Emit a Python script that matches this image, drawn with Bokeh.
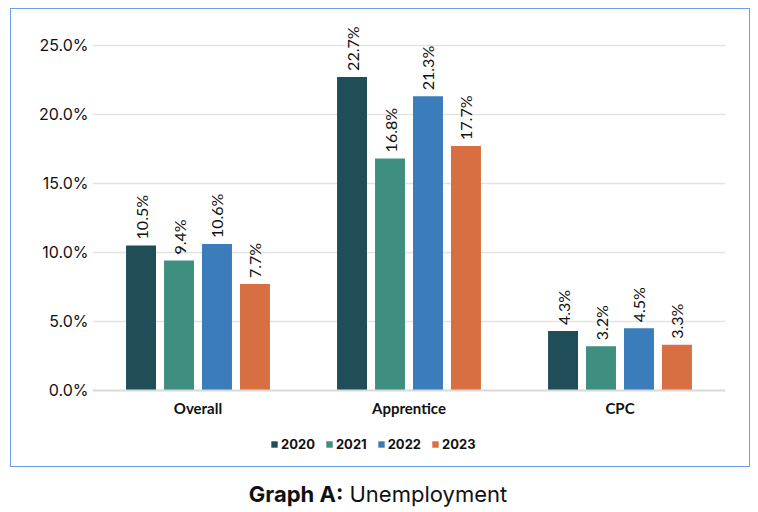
from bokeh.plotting import figure
from bokeh.models import (ColumnDataSource, FactorRange, Range1d, Legend, LegendItem,
                          FixedTicker, Div, CustomJSTickFormatter, Span)
from bokeh.transform import dodge
from bokeh.layouts import column
from bokeh.core.properties import value
from bokeh.embed import file_html
from bokeh.resources import INLINE
import math

categories = ["Overall", "Apprentice", "CPC"]
years = ["2020", "2021", "2022", "2023"]
v2020 = [10.5, 22.7, 4.3]
v2021 = [9.4, 16.8, 3.2]
v2022 = [10.6, 21.3, 4.5]
v2023 = [7.7, 17.7, 3.3]
series = [v2020, v2021, v2022, v2023]
colors = ["#1F4E59", "#3F8F80", "#3A7DBA", "#D86F43"]
y_ticks = [0, 5, 10, 15, 20, 25]

p = figure(x_range=FactorRange(*categories, range_padding=0),
           y_range=Range1d(-5, 27),
           width=738, height=457, output_backend="svg", toolbar_location=None,
           min_border_left=81, min_border_right=24, min_border_top=8, min_border_bottom=7)
p.outline_line_color = None
p.background_fill_color = "white"

offsets = [-0.27, -0.09, 0.09, 0.27]
items = []
for yr, vals, col, off in zip(years, series, colors, offsets):
    src = ColumnDataSource(dict(cat=categories, val=vals,
                                lab=[f"{v:.1f}%" for v in vals]))
    r = p.vbar(x=dodge("cat", off, range=p.x_range), top="val", width=0.142,
               source=src, fill_color=col, line_color=None)
    p.text(x=dodge("cat", off, range=p.x_range), y="val", text="lab", source=src,
           angle=math.pi / 2, text_align="left", text_baseline="middle",
           y_offset=-6, text_font=value("Lato"), text_font_size="16px",
           text_color="#111111")
    items.append(LegendItem(label=yr, renderers=[r]))

# baseline and category labels
p.add_layout(Span(location=0, dimension="width", line_color="#D9D9D9", line_width=2))
cat_src = ColumnDataSource(dict(cat=categories, y=[0] * len(categories)))
p.text(x="cat", y="y", text="cat", source=cat_src, y_offset=18,
       text_align="center", text_baseline="middle", text_font=value("Lato"),
       text_font_style="bold", text_font_size="15px", text_color="#111111")

p.xaxis.visible = False
p.yaxis.ticker = FixedTicker(ticks=y_ticks)
p.yaxis.formatter = CustomJSTickFormatter(code="return tick.toFixed(1) + '%';")
p.yaxis.axis_line_color = None
p.yaxis.major_tick_line_color = None
p.yaxis.minor_tick_line_color = None
p.yaxis.major_tick_out = 0
p.yaxis.major_tick_in = 0
p.yaxis.major_label_text_font = "Inter"
p.yaxis.major_label_text_font_size = "16px"
p.yaxis.major_label_text_color = "#111111"
p.yaxis.major_label_standoff = 4

p.xgrid.grid_line_color = None
p.ygrid.grid_line_color = "#E3E3E3"
p.ygrid.grid_line_width = 1.5
p.ygrid.ticker = FixedTicker(ticks=y_ticks[1:])

legend = Legend(items=items, orientation="horizontal", location=(178, 7),
                border_line_color=None, background_fill_alpha=0,
                glyph_width=8, glyph_height=8, label_standoff=3, spacing=10,
                label_text_font="Inter", label_text_font_style="bold",
                label_text_font_size="13px", label_text_color="#111111",
                margin=0, padding=0)
p.add_layout(legend)

box = column(p, margin=(8, 0, 0, 10), styles={"border": "1.5px solid #6D9EEB"})

title = Div(text="<b>Graph A:</b> Unemployment", width=740, margin=(12, 0, 0, 8),
            styles={"text-align": "center", "font-family": "Inter",
                    "font-size": "22px", "color": "#111111"})

layout = column(box, title, spacing=0)
open("out.html", "w").write(file_html(layout, INLINE))
